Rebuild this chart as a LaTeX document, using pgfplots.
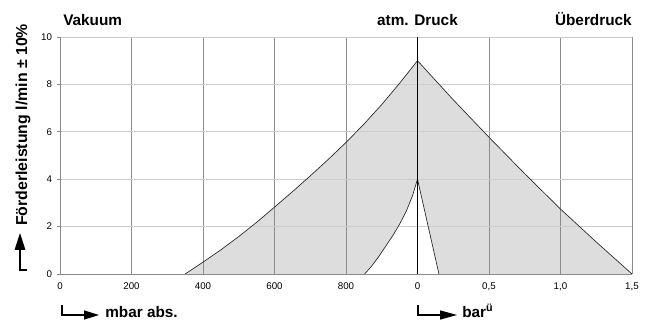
\documentclass[border=0pt]{standalone}
\usepackage{fontspec}
\setmainfont{Liberation Sans}
\usepackage{pgfplots}
\pgfplotsset{compat=1.18}
\definecolor{fillgray}{HTML}{DDDDDD}
\definecolor{vgrid}{HTML}{8C8C8C}
\definecolor{hgrid}{HTML}{CDCDCD}
\definecolor{axgray}{HTML}{8A8A8A}
\begin{document}
\begin{tikzpicture}[x=1pt,y=1pt]
\begin{axis}[
  at={(45pt,36.75pt)}, anchor=south west,
  scale only axis, width=429pt, height=177.75pt,
  xmin=0, xmax=8, ymin=0, ymax=10,
  xtick={0,1,2,3,4,5,6,7,8},
  xticklabels={0,200,400,600,800,0,{0,5},{1,0},{1,5}},
  ytick={0,2,4,6,8,10},
  axis x line*=bottom, axis y line*=left,
  x axis line style={-, draw=axgray, line width=0.6pt},
  y axis line style={-, draw=axgray, line width=0.6pt},
  set layers,
  grid=major,
  x grid style={draw=vgrid, line width=0.6pt},
  y grid style={draw=hgrid, line width=0.6pt},
  tick label style={font=\fontsize{7.3}{8}\selectfont},
  /pgf/number format/assume math mode=true,
  xtick style={draw=none},
  ytick style={draw=axgray, line width=0.5pt},
  major tick length=2.25pt,
  tick align=outside,
  xticklabel style={anchor=north, inner sep=0pt, yshift=-4pt},
  yticklabel style={anchor=east, inner sep=0pt, xshift=-3.5pt},
]
\addplot[on layer=axis background, draw=none, fill=fillgray] coordinates {
 (1.75,0) (2,0.5) (2.25,1.02) (2.5,1.58) (2.75,2.18) (3,2.82) (3.25,3.47)
 (3.5,4.14) (3.75,4.83) (4,5.55) (4.25,6.32) (4.5,7.15) (4.75,8.05) (5,9)
 (5.5,7.35) (6,5.77) (6.5,4.23) (7,2.74) (7.5,1.35) (8,0)} -- cycle;
\addplot[on layer=axis background, draw=none, fill=white] coordinates {
 (4.26,0) (4.35,0.3) (4.45,0.7) (4.55,1.15) (4.65,1.6) (4.75,2.1)
 (4.85,2.7) (4.93,3.3) (5,4) (5.3,0)} -- cycle;
\addplot[draw=black!85, line width=0.5pt] coordinates {
 (1.75,0) (2,0.5) (2.25,1.02) (2.5,1.58) (2.75,2.18) (3,2.82) (3.25,3.47)
 (3.5,4.14) (3.75,4.83) (4,5.55) (4.25,6.32) (4.5,7.15) (4.75,8.05) (5,9)
 (5.5,7.35) (6,5.77) (6.5,4.23) (7,2.74) (7.5,1.35) (8,0)};
\addplot[draw=black!85, line width=0.5pt] coordinates {
 (4.26,0) (4.35,0.3) (4.45,0.7) (4.55,1.15) (4.65,1.6) (4.75,2.1)
 (4.85,2.7) (4.93,3.3) (5,4) (5.3,0)};
\addplot[draw=black, line width=1pt] coordinates {(5,0) (5,10)};
\end{axis}
% titles
\node[anchor=base west, inner sep=0pt, font=\fontsize{11.5}{13}\selectfont\bfseries] at (47.25,222.75) {Vakuum};
\node[anchor=base, inner sep=0pt, font=\fontsize{11.5}{13}\selectfont\bfseries] at (313.1,222.75) {atm. Druck};
\node[anchor=base east, inner sep=0pt, font=\fontsize{11.5}{13}\selectfont\bfseries] at (474,222.75) {Überdruck};
% y label with arrow
\node[rotate=90, anchor=base west, inner sep=0pt, font=\fontsize{11.9}{13}\selectfont\bfseries] at (20.25,72.75) {Förderleistung l/min ± 10\%};
\draw[line width=0.9pt] (20.25,39.75) -- (15,39.75) -- (15,55);
\fill (15,67.5) -- (10.9,54.75) -- (19.1,54.75) -- cycle;
% x labels with arrows
\draw[line width=0.9pt] (46.5,13.5) -- (46.5,6) -- (63.5,6);
\fill (74.25,6) -- (63,9.5) -- (63,2.5) -- cycle;
\node[anchor=base west, inner sep=0pt, font=\fontsize{11.5}{13}\selectfont\bfseries] at (78.75,4) {mbar abs.};
\draw[line width=0.9pt] (313.5,13.5) -- (313.5,6) -- (330.5,6);
\fill (342.75,6) -- (330,9.5) -- (330,2.5) -- cycle;
\node[anchor=base west, inner sep=0pt, font=\fontsize{11.5}{13}\selectfont\bfseries] at (346.5,4) {bar\textsuperscript{ü}};
\pgfresetboundingbox
\useasboundingbox (0,0) rectangle (486,242.25);
\end{tikzpicture}
\end{document}
